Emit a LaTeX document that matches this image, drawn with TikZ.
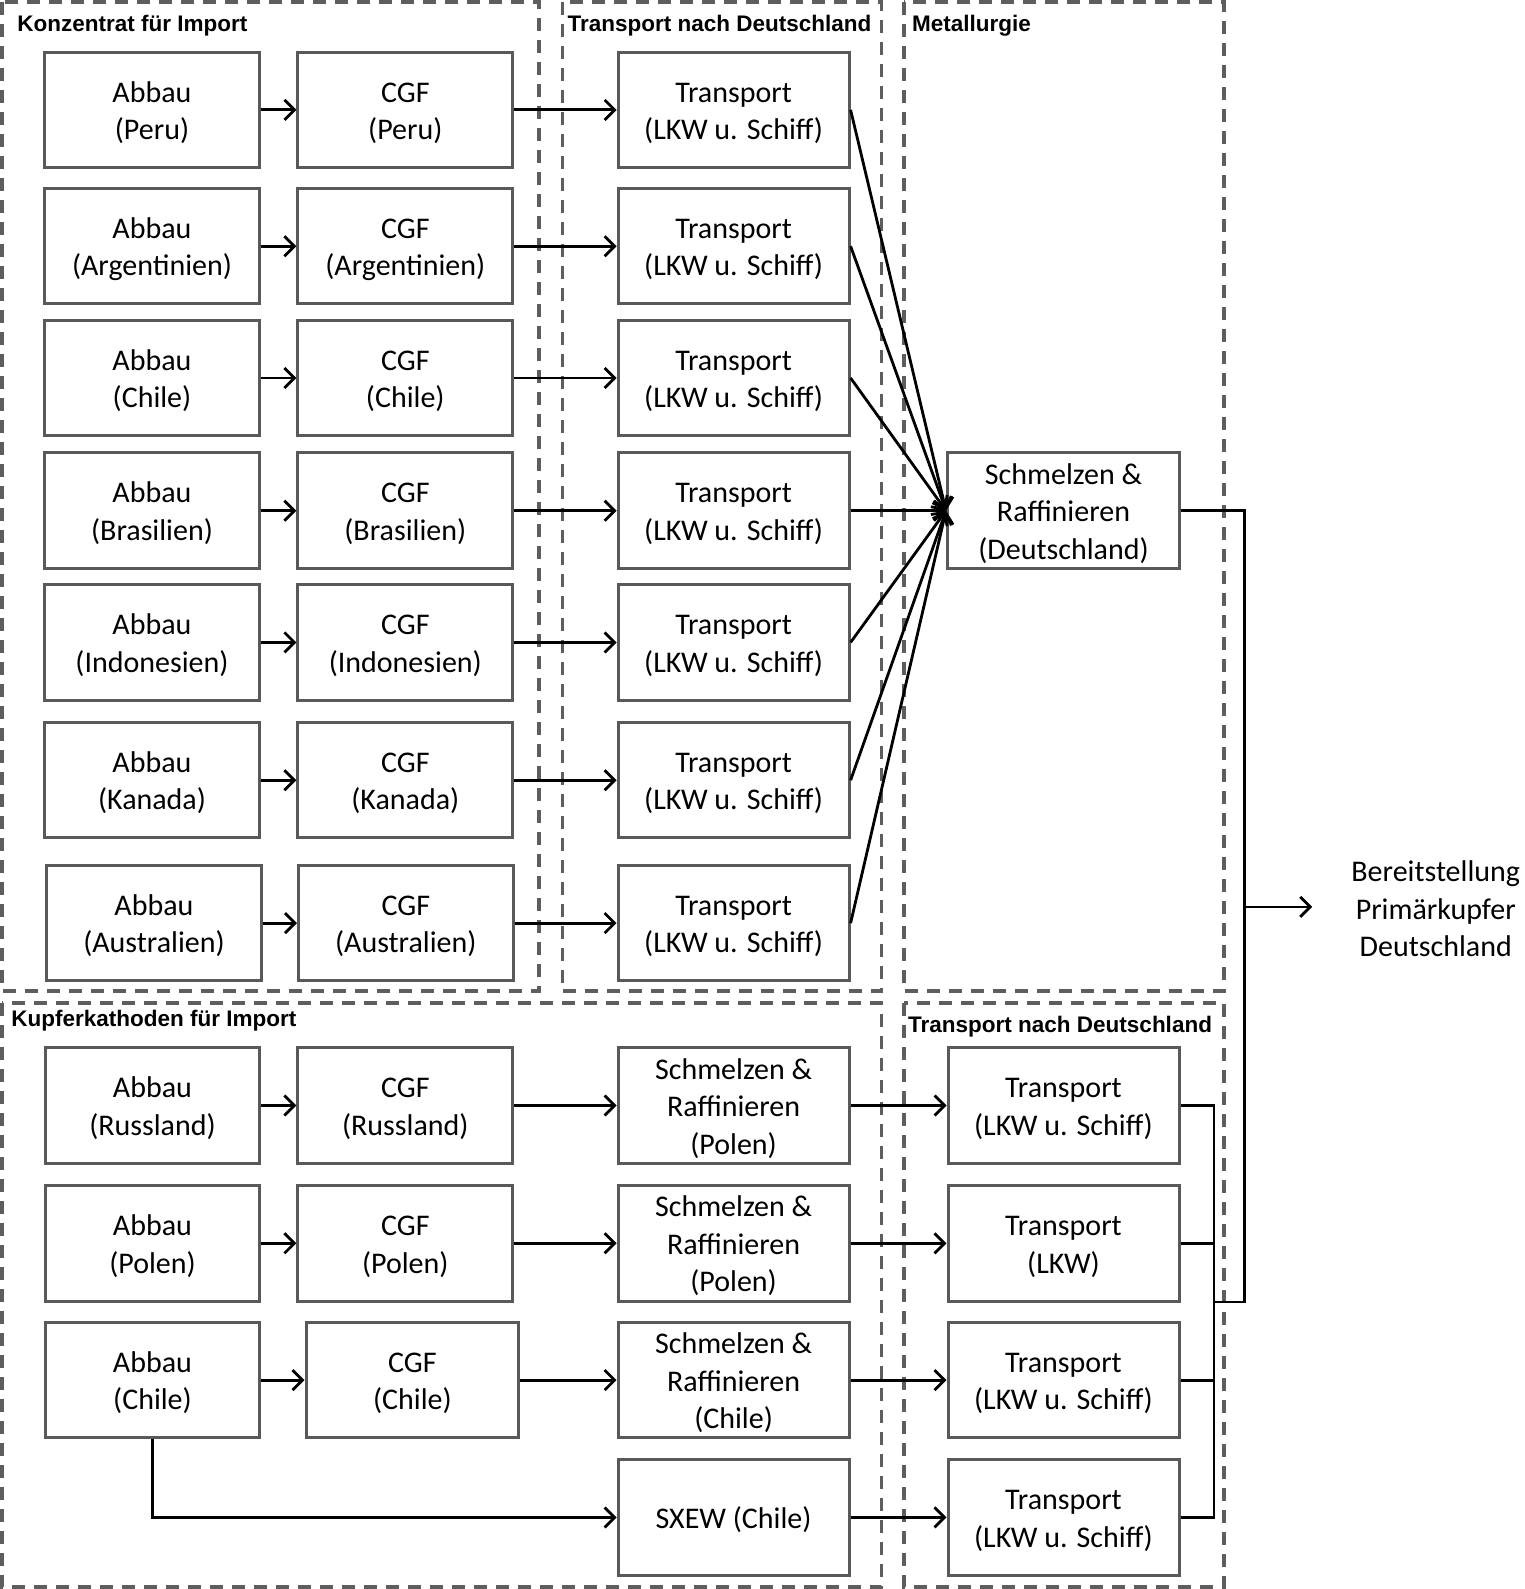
\documentclass[tikz,border=0pt]{standalone}
\usepackage{fontspec}
\setmainfont{Carlito}
\newfontfamily\hdrfont{Liberation Sans}
\usetikzlibrary{arrows.meta}
\definecolor{boxgray}{HTML}{595959}
\definecolor{dashgray}{HTML}{5E5E5E}
\newcommand\bx[1]{\raisebox{-3.5pt}[\height][\depth]{\begin{tabular}{@{}c@{}}#1\end{tabular}}}
\begin{document}
\begin{tikzpicture}[x=1pt,y=-1pt,
  box/.style={draw=boxgray, line width=3pt, minimum width=214.8pt, minimum height=115.5pt,
    inner sep=0pt, font=\fontsize{30}{37.5}\selectfont},
  wbox/.style={box, minimum width=231pt},
  group/.style={draw=dashgray, line width=3.5pt, dash pattern=on 13pt off 9pt},
  hdr/.style={anchor=base west, inner sep=0pt, font=\hdrfont\bfseries\fontsize{22.5}{27}\selectfont},
  conn/.style={draw=black, line width=2.8pt},
  arr/.style={conn, -{Straight Barb[length=10pt,width=20pt,line width=2.8pt]}},
  outtext/.style={align=center, inner ysep=0pt, inner xsep=39pt, font=\fontsize{30}{37.5}\selectfont}
]
\useasboundingbox (0,0) rectangle (1524,1589);

% dashed groups
\draw[group] (2,2) rectangle (539,991);
\draw[group] (562.4,2) rectangle (881.6,991);
\draw[group] (903.9,2) rectangle (1224,991);
\draw[group] (2,1003) rectangle (881.6,1587);
\draw[group] (903.9,1003) rectangle (1224,1587);

\node[hdr] (h1) at (17.2,31.5) {Konzentrat für Import};
\node[hdr] (h2) at (567.4,31.5) {Transport nach Deutschland};
\node[hdr] (h3) at (912,31.5) {Metallurgie};
\node[hdr] (h4) at (11.1,1026.5) {Kupferkathoden für Import};
\node[hdr] (h5) at (908,1032.5) {Transport nach Deutschland};

% upper block
\node[box] (sde) at (1063.5,510.7) [minimum width=232pt] {\bx{Schmelzen \&\\Raffinieren\\(Deutschland)}};
\foreach \i/\y/\land/\ax/\cx in {1/109.9/Peru/152/405.3, 2/246.2/Argentinien/152/405.3,
  3/378/Chile/152/405.3, 4/510.7/Brasilien/152/405.3, 5/642.4/Indonesien/152/405.3,
  6/780.2/Kanada/152/405.3, 7/923.1/Australien/154/405.8}{
  \node[box] (a\i) at (\ax,\y) {\bx{Abbau\\(\land)}};
  \node[box] (c\i) at (\cx,\y) {\bx{CGF\\(\land)}};
  \node[wbox] (t\i) at (733.6,\y) {\bx{Transport\\(LKW u. Schiff)}};
  \draw[arr] (a\i) -- (c\i);
  \draw[arr] (c\i) -- (t\i);
  \draw[arr] (t\i.east) -- (sde.west);
}

% lower block
\node[box] (ab1) at (152.5,1105.5) {\bx{Abbau\\(Russland)}};
\node[box] (cb1) at (405.3,1105.5) {\bx{CGF\\(Russland)}};
\node[wbox] (sb1) at (733.6,1105.5) {\bx{Schmelzen \&\\Raffinieren\\(Polen)}};
\node[wbox] (u1) at (1063.5,1105.5) {\bx{Transport\\(LKW u. Schiff)}};

\node[box] (ab2) at (152.5,1243.3) {\bx{Abbau\\(Polen)}};
\node[box] (cb2) at (405.3,1243.3) {\bx{CGF\\(Polen)}};
\node[wbox] (sb2) at (733.6,1243.3) {\bx{Schmelzen \&\\Raffinieren\\(Polen)}};
\node[wbox] (u2) at (1063.5,1243.3) {\bx{Transport\\(LKW)}};

\node[box] (ab3) at (152.5,1380.1) {\bx{Abbau\\(Chile)}};
\node[box, minimum width=212.8pt] (cb3) at (412.4,1380.1) {\bx{CGF\\(Chile)}};
\node[wbox] (sb3) at (733.6,1380.1) {\bx{Schmelzen \&\\Raffinieren\\(Chile)}};
\node[wbox] (u3) at (1063.5,1380.1) {\bx{Transport\\(LKW u. Schiff)}};

\node[wbox] (sx) at (733.6,1517.4) {\bx{SXEW (Chile)}};
\node[wbox] (u4) at (1063.5,1517.4) {\bx{Transport\\(LKW u. Schiff)}};

\foreach \i in {1,2,3}{
  \draw[arr] (ab\i) -- (cb\i);
  \draw[arr] (cb\i) -- (sb\i);
  \draw[arr] (sb\i) -- (u\i);
}
\draw[arr] (ab3.south) |- (sx.west);
\draw[arr] (sx) -- (u4);

% collection bus
\coordinate (j) at (1214,1302);
\coordinate (bb) at (1244.3,1302);
\coordinate (o) at (1244.3,906.9);
\draw[conn] (u1.east) -| (j);
\draw[conn] (u4.east) -| (j);
\draw[conn] (u2.east) -- (u2.east -| j);
\draw[conn] (u3.east) -- (u3.east -| j);
\draw[conn] (sde.east) -| (bb) -- (j);

\node[outtext, anchor=west] (res) at (1312.2,909) {Bereitstellung\\Primärkupfer\\Deutschland};
\draw[arr] (o) -- (o -| res.west);
\end{tikzpicture}
\end{document}
